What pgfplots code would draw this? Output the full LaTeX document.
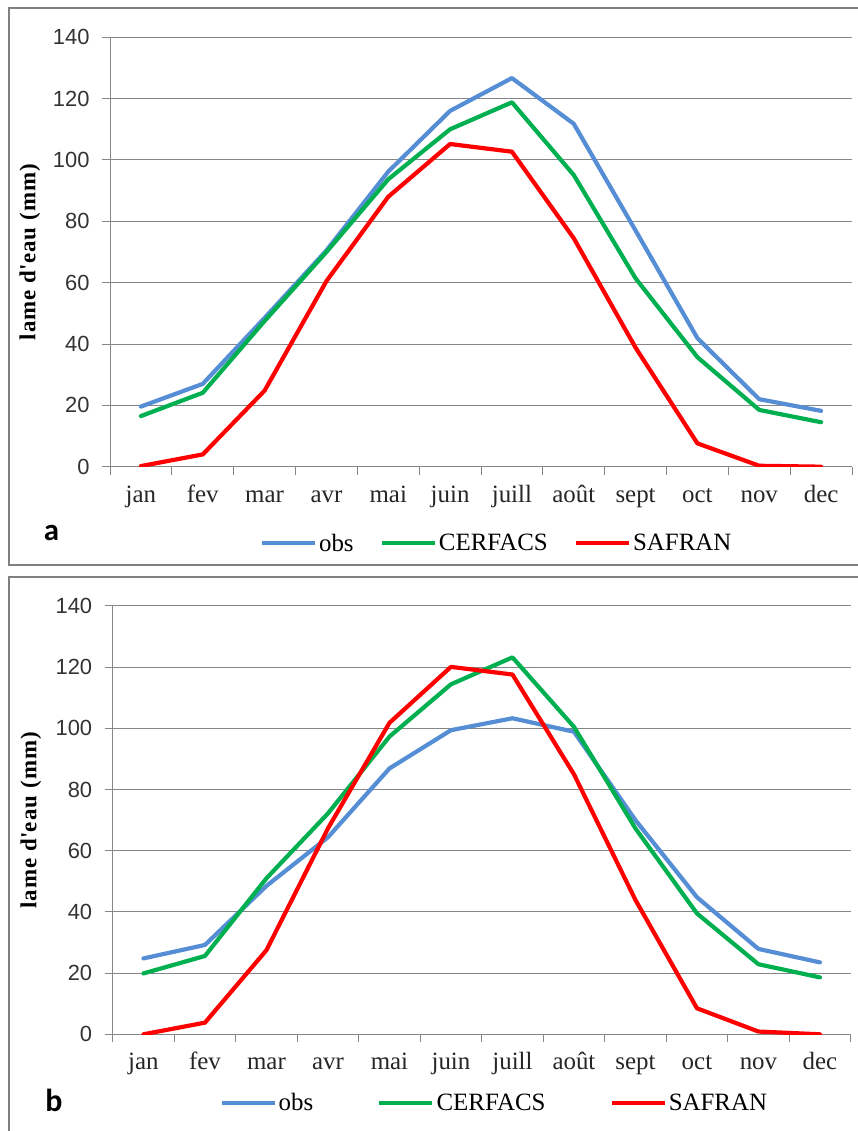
\documentclass[border=0pt]{standalone}
\usepackage{fontspec}
\setmainfont{Liberation Serif}
\newfontfamily\sansf{Liberation Sans}
\newfontfamily\labf{Carlito}
\usepackage{pgfplots}
\pgfplotsset{compat=1.18}
\definecolor{cobs}{RGB}{85,142,213}
\definecolor{ccer}{RGB}{0,176,80}
\definecolor{csaf}{RGB}{255,0,0}
\definecolor{gridc}{RGB}{134,134,134}
\definecolor{framec}{RGB}{128,128,128}
\pgfplotsset{
  mystyle/.style={
    scale only axis, anchor=south west,
    xmin=-0.5, xmax=11.5, ymin=0, ymax=140,
    xtick={-0.5,0.5,...,11.5},
    x tick label as interval,
    xticklabels={jan,fev,mar,avr,mai,juin,juill,août,sept,oct,nov,dec},
    ytick={0,20,...,140},
    axis x line*=bottom, axis y line*=left,
    axis line style={gridc, line width=1bp, -},
    ymajorgrids, major grid style={gridc, line width=1bp},
    tick align=outside, major tick length=8bp,
    tick style={gridc, line width=1bp},
    /pgf/number format/assume math mode=true,
    yticklabel style={font=\sansf\fontsize{22}{22}\selectfont, text=black!80, xshift=-9bp},
    xticklabel style={font=\fontsize{25}{25}\selectfont, text=black!85, text height=15bp, text depth=5bp, yshift=-9bp},
    ylabel={lame d\textquotesingle eau (mm)},
    ylabel style={font=\bfseries\fontsize{23}{23}\selectfont\addfontfeature{LetterSpace=5}, anchor=center},
    legend columns=3,
    legend image code/.code={\draw[##1, line width=4.3bp, line cap=butt] (0bp,0bp) -- (53bp,0bp);},
    every axis plot/.append style={line width=4.2bp, line join=round, line cap=round},
  }
}
\begin{document}
\begin{tikzpicture}
\useasboundingbox (0,0) rectangle (858bp,1131bp);
\draw[framec, line width=2bp] (9bp,566bp) rectangle (880bp,1123bp);
\draw[framec, line width=2bp] (9bp,-30bp) rectangle (880bp,554bp);

% panel a
\begin{axis}[mystyle,
  at={(110bp,664.3bp)}, width=742bp, height=429.4bp,
  ylabel style={at={(axis description cs:-0.108,0.5)}},
  legend style={draw=none, fill=none, at={(axis description cs:0.521,-0.178)}, anchor=center,
    font=\fontsize{25}{25}\selectfont, /tikz/every even column/.append style={column sep=24bp}},
]
\addplot[cobs] coordinates {(0,19.6) (1,27) (2,48.5) (3,70.5) (4,96.2) (5,116) (6,126.7) (7,111.8) (8,77) (9,41.9) (10,22) (11,18.2)};
\addlegendentry{obs}
\addplot[ccer] coordinates {(0,16.5) (1,24.1) (2,47.5) (3,70) (4,93.7) (5,110) (6,118.8) (7,95.1) (8,61.4) (9,35.7) (10,18.5) (11,14.5)};
\addlegendentry{CERFACS}
\addplot[csaf] coordinates {(0,0.2) (1,4) (2,24.8) (3,60.5) (4,88) (5,105.2) (6,102.7) (7,74.5) (8,38.8) (9,7.6) (10,0.3) (11,0)};
\addlegendentry{SAFRAN}
\end{axis}
\node[font=\labf\bfseries\fontsize{31}{31}\selectfont] at (51.5bp,597.7bp) {a};

% panel b
\begin{axis}[mystyle,
  at={(112.7bp,96.7bp)}, width=738bp, height=428.3bp,
  ylabel style={at={(axis description cs:-0.111,0.5)}},
  legend style={draw=none, fill=none, at={(axis description cs:0.517,-0.160)}, anchor=center,
    font=\fontsize{25}{25}\selectfont, /tikz/every even column/.append style={column sep=62bp}},
]
\addplot[cobs] coordinates {(0,24.8) (1,29.2) (2,48.5) (3,64.4) (4,86.9) (5,99.4) (6,103.3) (7,98.9) (8,70) (9,44.8) (10,27.9) (11,23.5)};
\addlegendentry{obs}
\addplot[ccer] coordinates {(0,19.9) (1,25.6) (2,51) (3,72.2) (4,97.3) (5,114.4) (6,123.2) (7,100.5) (8,67.3) (9,39.5) (10,22.9) (11,18.6)};
\addlegendentry{CERFACS}
\addplot[csaf] coordinates {(0,0) (1,3.8) (2,27.5) (3,67.3) (4,101.8) (5,120.1) (6,117.6) (7,85) (8,43.9) (9,8.5) (10,0.9) (11,0)};
\addlegendentry{SAFRAN}
\end{axis}
\node[font=\labf\bfseries\fontsize{32}{32}\selectfont] at (54bp,31bp) {b};
\end{tikzpicture}
\end{document}
